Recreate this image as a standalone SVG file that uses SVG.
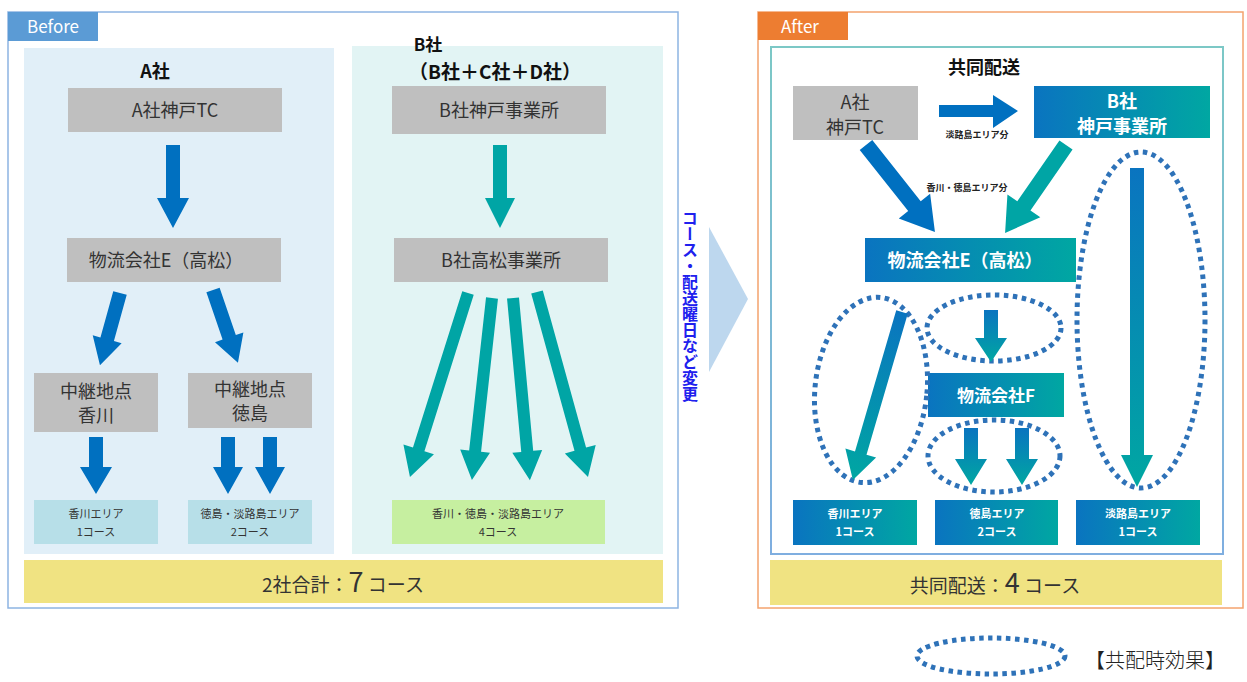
<svg xmlns="http://www.w3.org/2000/svg" width="1247" height="682" viewBox="0 0 1247 682">
<defs>
<linearGradient id="gH" x1="0" y1="0" x2="1" y2="0"><stop offset="0" stop-color="#0a74c0"/><stop offset="1" stop-color="#00a7a2"/></linearGradient>
<linearGradient id="gV" x1="0" y1="0" x2="0" y2="1"><stop offset="0" stop-color="#7cc8c6"/><stop offset="1" stop-color="#7faee0"/></linearGradient>
<style>
text{font-family:"Noto Sans CJK JP","Noto Sans",sans-serif;text-anchor:middle}
.gray{fill:#bfbfbf}
.t18{font-size:18px;fill:#333}
.t11{font-size:11px;fill:#333}
.w{fill:#fff;font-weight:bold}
.dot{fill:none;stroke:#2e72b8;stroke-width:5;stroke-dasharray:4.5 4.5}
.blue{fill:#0070c0}
.teal{fill:#00a5a5}
.grad{fill:url(#gH)}
</style>
</defs>

<!-- Before frame -->
<g id="before">
<rect x="8" y="12" width="670" height="596" fill="#fff" stroke="#8db4e2" stroke-width="1.5"/>
<rect x="8" y="12" width="90" height="29" fill="#5b9bd5"/>
<text x="53" y="33" style="font-size:17px;fill:#fff">Before</text>
<rect x="24" y="48" width="310" height="506" fill="#e1eff8"/>
<rect x="352" y="46" width="311" height="508" fill="#e2f4f4"/>
</g>

<g id="A-label"><text x="155" y="78" style="font-size:18px;font-weight:bold;fill:#111">A社</text></g>
<g id="A-TC"><rect class="gray" x="68" y="88" width="214" height="44"/><text class="t18" x="175" y="117">A社神戸TC</text></g>
<g id="A-E"><rect class="gray" x="67" y="238" width="214" height="44"/><text class="t18" x="166" y="267">物流会社E（高松）</text></g>
<g id="A-kagawa"><rect class="gray" x="34" y="373" width="124" height="59"/><text class="t18" x="96" y="398">中継地点</text><text class="t18" x="96" y="422">香川</text></g>
<g id="A-tokushima"><rect class="gray" x="188" y="373" width="124" height="55"/><text class="t18" x="250" y="396">中継地点</text><text class="t18" x="250" y="420">徳島</text></g>
<g id="A-area1"><rect x="34" y="500" width="124" height="44" fill="#b7dfe8"/><text class="t11" x="96" y="518">香川エリア</text><text class="t11" x="96" y="536">1コース</text></g>
<g id="A-area2"><rect x="188" y="500" width="124" height="44" fill="#b7dfe8"/><text class="t11" x="250" y="518">徳島・淡路島エリア</text><text class="t11" x="250" y="536">2コース</text></g>

<g id="B-label"><text x="428" y="51" style="font-size:17px;font-weight:bold;fill:#111">B社</text><text x="495" y="79" style="font-size:19px;font-weight:bold;fill:#111">（B社＋C社＋D社）</text></g>
<g id="B-kobe"><rect class="gray" x="392" y="86" width="214" height="48"/><text class="t18" x="499" y="117">B社神戸事業所</text></g>
<g id="B-takamatsu"><rect class="gray" x="394" y="238" width="214" height="44"/><text class="t18" x="501" y="267">B社高松事業所</text></g>
<g id="B-area"><rect x="392" y="500" width="213" height="44" fill="#c6efa0"/><text class="t11" x="498" y="518">香川・徳島・淡路島エリア</text><text class="t11" x="498" y="536">4コース</text></g>

<g id="before-total"><rect x="24" y="560" width="639" height="43" fill="#f0e382"/><text x="343" y="592" style="font-size:19px;fill:#333">2社合計：<tspan style="font-size:27px">7</tspan> コース</text></g>

<!-- middle -->
<g id="change">
<polygon points="709,227 748,299 709,372" fill="#bdd7ee"/>
<text x="690" y="210" style="font-size:16px;fill:#2020ee;font-weight:bold;writing-mode:vertical-rl;text-anchor:start">コース・配送曜日など変更</text>
</g>

<!-- After frame -->
<g id="after">
<rect x="758" y="12" width="485" height="596" fill="#fff" stroke="#f4a36e" stroke-width="1.5"/>
<rect x="758" y="12" width="90" height="28" fill="#ed7d31"/>
<text x="800" y="33" style="font-size:17px;fill:#fff">After</text>
<rect x="771" y="47" width="452" height="507" fill="none" stroke="url(#gV)" stroke-width="2"/>
<text x="984" y="74" style="font-size:18px;font-weight:bold;fill:#111">共同配送</text>
</g>

<g id="C-A"><rect class="gray" x="793" y="86" width="125" height="54"/><text class="t18" x="855" y="109">A社</text><text class="t18" x="855" y="134">神戸TC</text></g>
<g id="C-B"><rect class="grad" x="1034" y="86" width="176" height="52"/><text class="w" x="1122" y="108" style="font-size:18px">B社</text><text class="w" x="1122" y="133" style="font-size:18px">神戸事業所</text></g>
<g id="C-E"><rect class="grad" x="865" y="238" width="211" height="44"/><text class="w" x="965" y="267" style="font-size:18px">物流会社E（高松）</text></g>
<g id="C-F"><rect class="grad" x="928" y="373" width="136" height="44"/><text class="w" x="996" y="402" style="font-size:17px">物流会社F</text></g>
<g id="C-area1"><rect class="grad" x="793" y="500" width="124" height="45"/><text class="w" x="855" y="518" style="font-size:11px">香川エリア</text><text class="w" x="855" y="536" style="font-size:11px">1コース</text></g>
<g id="C-area2"><rect class="grad" x="935" y="500" width="123" height="45"/><text class="w" x="997" y="518" style="font-size:11px">徳島エリア</text><text class="w" x="997" y="536" style="font-size:11px">2コース</text></g>
<g id="C-area3"><rect class="grad" x="1076" y="500" width="124" height="45"/><text class="w" x="1138" y="518" style="font-size:11px">淡路島エリア</text><text class="w" x="1138" y="536" style="font-size:11px">1コース</text></g>

<g id="after-total"><rect x="770" y="560" width="452" height="45" fill="#f0e382"/><text x="995" y="593" style="font-size:19px;fill:#333">共同配送：<tspan style="font-size:27px">4</tspan> コース</text></g>

<g id="labels">
<text x="977" y="138" style="font-size:9px;font-weight:bold;fill:#222">淡路島エリア分</text>
<text x="967" y="191" style="font-size:9px;font-weight:bold;fill:#222">香川・徳島エリア分</text>
</g>

<g id="effects">
<ellipse class="dot" cx="871" cy="390" rx="56" ry="93" transform="rotate(6 871 390)"/>
<ellipse class="dot" cx="994" cy="328" rx="67" ry="33"/>
<ellipse class="dot" cx="994" cy="456" rx="66" ry="36"/>
<ellipse class="dot" cx="1141" cy="320" rx="64" ry="168"/>
</g>

<g id="connectors">
<!-- Before A -->
<g transform="translate(173,145) rotate(90)"><polygon class="blue" points="0,-7 53,-7 53,-16 83,0 53,16 53,7 0,7"/></g>
<g transform="translate(120,293) rotate(105.5)"><polygon class="blue" points="0,-7 48,-7 48,-15 75,0 48,15 48,7 0,7"/></g>
<g transform="translate(213,290) rotate(71.1)"><polygon class="blue" points="0,-7 50,-7 50,-15 77,0 50,15 50,7 0,7"/></g>
<g transform="translate(96,437) rotate(90)"><polygon class="blue" points="0,-7 30,-7 30,-16 57,0 30,16 30,7 0,7"/></g>
<g transform="translate(228,437) rotate(90)"><polygon class="blue" points="0,-7 30,-7 30,-15 57,0 30,15 30,7 0,7"/></g>
<g transform="translate(270,437) rotate(90)"><polygon class="blue" points="0,-7 30,-7 30,-15 57,0 30,15 30,7 0,7"/></g>
<!-- Before B -->
<g transform="translate(500,145) rotate(90)"><polygon class="teal" points="0,-7 53,-7 53,-15 83,0 53,15 53,7 0,7"/></g>
<g transform="translate(468,293) rotate(107.5)"><polygon class="teal" points="0,-6 164,-6 164,-16 193,0 164,16 164,6 0,6"/></g>
<g transform="translate(492,298) rotate(96.3)"><polygon class="teal" points="0,-6 154,-6 154,-15 183,0 154,15 154,6 0,6"/></g>
<g transform="translate(513,298) rotate(84.7)"><polygon class="teal" points="0,-6 154,-6 154,-15 183,0 154,15 154,6 0,6"/></g>
<g transform="translate(537,292) rotate(74.6)"><polygon class="teal" points="0,-6 163,-6 163,-16 192,0 163,16 163,6 0,6"/></g>
<!-- After -->
<polygon class="blue" points="939,105 993,105 993,95 1018,111 993,128 993,117 939,117"/>
<g transform="translate(866,145) rotate(51.6)"><polygon class="blue" points="0,-8 78,-8 78,-20 111,0 78,20 78,8 0,8"/></g>
<g transform="translate(1066,145) rotate(124.7)"><polygon class="teal" points="0,-8 74,-8 74,-20 107,0 74,20 74,8 0,8"/></g>
<g transform="translate(902,312) rotate(106.3)"><polygon class="grad" points="0,-6 147,-6 147,-16 175,0 147,16 147,6 0,6"/></g>
<g transform="translate(991,310) rotate(90)"><polygon class="grad" points="0,-7 28,-7 28,-16 52,0 28,16 28,7 0,7"/></g>
<g transform="translate(971,428) rotate(90)"><polygon class="grad" points="0,-7 31,-7 31,-16 57,0 31,16 31,7 0,7"/></g>
<g transform="translate(1022,428) rotate(90)"><polygon class="grad" points="0,-7 31,-7 31,-16 57,0 31,16 31,7 0,7"/></g>
<g transform="translate(1137,168) rotate(90)"><polygon class="grad" points="0,-7 287,-7 287,-16 319,0 287,16 287,7 0,7"/></g>
</g>

<g id="legend">
<ellipse class="dot" cx="991" cy="656" rx="74" ry="18"/>
<text x="1155" y="668" style="font-size:20px;font-weight:300;fill:#222">【共配時効果】</text>
</g>
</svg>
